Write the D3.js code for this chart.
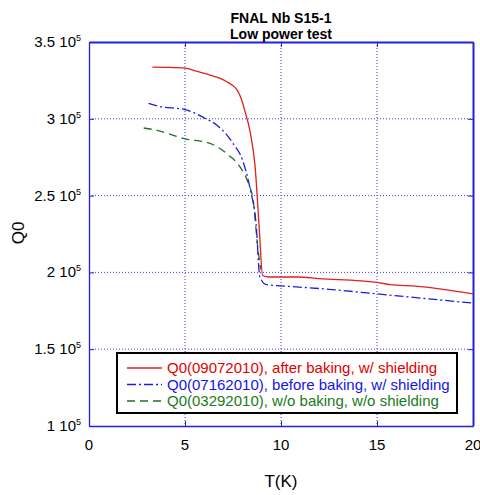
<!DOCTYPE html>
<html>
<head>
<meta charset="utf-8">
<script src="https://cdn.jsdelivr.net/npm/d3@7"></script>
<style>
body { margin: 0; background: #fff; }
text { font-family: "Liberation Sans", Arial, sans-serif; }
</style>
</head>
<body>
<div id="chart"></div>
<script>
var width = 480,
    height = 495;

// T(K) and Q0 (in units of 1e5)
var redT  = [3.3, 4.0, 5.0, 5.6, 6.3, 6.8, 7.2, 7.45, 7.7, 7.9, 8.1, 8.4, 8.65, 8.87, 9.04, 9.4, 10.8, 12.0, 15.0, 15.7, 17.0, 20.0];
var redQ  = [3.337, 3.335, 3.33, 3.31, 3.285, 3.265, 3.24, 3.22, 3.19, 3.14, 3.06, 2.91, 2.69, 2.28, 1.98, 1.97, 1.97, 1.96, 1.935, 1.92, 1.91, 1.86];

var blueT = [3.1, 3.7, 5.0, 6.1, 6.65, 7.5, 8.0, 8.4, 8.7, 8.9, 9.25, 10.3, 12.5, 15.0, 17.5, 20.0];
var blueQ = [3.10, 3.08, 3.06, 3.00, 2.96, 2.84, 2.73, 2.54, 2.32, 1.97, 1.92, 1.91, 1.89, 1.86, 1.83, 1.80];

var greenT = [2.85, 3.35, 5.0, 6.3, 7.3, 7.85, 8.3, 8.55, 8.8, 8.95];
var greenQ = [2.94, 2.93, 2.87, 2.84, 2.76, 2.69, 2.58, 2.47, 2.15, 2.02];

var xTicks = [0, 5, 10, 15, 20];
var yTicks = [1, 1.5, 2, 2.5, 3, 3.5];
var yTickLabels = ["1", "1.5", "2", "2.5", "3", "3.5"];

var seriesNames = ["Q0(09072010), after baking, w/ shielding",
                   "Q0(07162010), before baking, w/ shielding",
                   "Q0(03292010), w/o baking, w/o shielding"];

var svg = d3.select("#chart")
  .append("svg")
  .attr("width", width)
  .attr("height", height);

var xScale = d3.scaleLinear().domain([0, 20]).range([89, 473]);
var yScale = d3.scaleLinear().domain([1, 3.5]).range([426, 42]);

var gridColor = "#3a3aee";

// grid
svg.append("g").selectAll("line")
  .data(xTicks.slice(1, -1))
  .enter().append("line")
  .attr("x1", function(d) { return xScale(d); })
  .attr("x2", function(d) { return xScale(d); })
  .attr("y1", yScale(3.5))
  .attr("y2", yScale(1))
  .attr("stroke", gridColor)
  .attr("stroke-width", 1)
  .attr("stroke-dasharray", "1,2");

svg.append("g").selectAll("line")
  .data(yTicks.slice(1, -1))
  .enter().append("line")
  .attr("x1", xScale(0))
  .attr("x2", xScale(20))
  .attr("y1", function(d) { return yScale(d); })
  .attr("y2", function(d) { return yScale(d); })
  .attr("stroke", gridColor)
  .attr("stroke-width", 1)
  .attr("stroke-dasharray", "1,2");

// axes with inward ticks
var xAxis = d3.axisBottom(xScale).tickValues(xTicks).tickSizeInner(-5).tickSizeOuter(0).tickFormat("");
var yAxis = d3.axisLeft(yScale).tickValues(yTicks).tickSizeInner(-5).tickSizeOuter(0).tickFormat("");
var xAxisTop = d3.axisTop(xScale).tickValues(xTicks).tickSizeInner(-5).tickSizeOuter(0).tickFormat("");
var yAxisRight = d3.axisRight(yScale).tickValues(yTicks).tickSizeInner(-5).tickSizeOuter(0).tickFormat("");

function styleAxis(g, w) {
  g.selectAll("path, line").attr("stroke", "#2020dd");
  g.select("path").attr("stroke-width", w);
}

svg.append("g").attr("transform", "translate(0," + yScale(1) + ")").call(xAxis).call(styleAxis, 1.3);
svg.append("g").attr("transform", "translate(" + xScale(0) + ",0)").call(yAxis).call(styleAxis, 1.3);
svg.append("g").attr("transform", "translate(0," + yScale(3.5) + ")").call(xAxisTop).call(styleAxis, 2);
svg.append("g").attr("transform", "translate(" + xScale(20) + ",0)").call(yAxisRight).call(styleAxis, 2);

// tick labels
svg.append("g").selectAll("text")
  .data(xTicks)
  .enter().append("text")
  .attr("x", function(d) { return xScale(d); })
  .attr("y", 450)
  .attr("text-anchor", "middle")
  .attr("font-size", 15)
  .text(function(d) { return d; });

var yl = svg.append("g").selectAll("text")
  .data(yTicks)
  .enter().append("text")
  .attr("x", 81)
  .attr("y", function(d) { return yScale(d) + 5; })
  .attr("text-anchor", "end")
  .attr("font-size", 15);
yl.append("tspan").text(function(d, i) { return yTickLabels[i] + " 10"; });
yl.append("tspan").attr("dy", -6).attr("font-size", 9).text("5");

// curves
var line = d3.line()
  .curve(d3.curveMonotoneX)
  .x(function(d) { return xScale(d[0]); })
  .y(function(d) { return yScale(d[1]); });

var series = [
  { t: redT, q: redQ, color: "#e41e1e", text: "#e00000", dash: null, w: 1.3 },
  { t: blueT, q: blueQ, color: "#1c1ce0", text: "#1414e6", dash: "9,3,2,3", w: 1.3 },
  { t: greenT, q: greenQ, color: "#1f6f2a", text: "#1b7a1b", dash: "8,5", w: 1.3 }
];

svg.append("defs").append("clipPath").attr("id", "plotclip")
  .append("rect")
  .attr("x", xScale(0)).attr("y", yScale(3.5))
  .attr("width", xScale(20) - xScale(0))
  .attr("height", yScale(1) - yScale(3.5));

var curves = svg.append("g").attr("clip-path", "url(#plotclip)");
series.slice().reverse().forEach(function(s) {
  curves.append("path")
    .datum(d3.zip(s.t, s.q))
    .attr("d", line)
    .attr("fill", "none")
    .attr("stroke", s.color)
    .attr("stroke-width", s.w)
    .attr("stroke-dasharray", s.dash);
});

// legend
var legend = svg.append("g");
legend.append("rect")
  .attr("x", 117).attr("y", 353)
  .attr("width", 340).attr("height", 60)
  .attr("fill", "#fff")
  .attr("stroke", "#000")
  .attr("stroke-width", 2);

series.forEach(function(s, i) {
  var y = 368 + i * 16.5;
  legend.append("line")
    .attr("x1", 127).attr("x2", 162)
    .attr("y1", y).attr("y2", y)
    .attr("stroke", s.color)
    .attr("stroke-width", 1.3)
    .attr("stroke-dasharray", s.dash);
  legend.append("text")
    .attr("x", 167).attr("y", y + 5)
    .attr("font-size", 15)
    .attr("fill", s.text)
    .text(seriesNames[i]);
});

// titles
svg.append("text")
  .attr("x", 281).attr("y", 23)
  .attr("text-anchor", "middle")
  .attr("font-size", 14).attr("font-weight", "bold")
  .text("FNAL Nb S15-1");
svg.append("text")
  .attr("x", 281).attr("y", 39)
  .attr("text-anchor", "middle")
  .attr("font-size", 14).attr("font-weight", "bold")
  .text("Low power test");

svg.append("text")
  .attr("x", 281).attr("y", 487)
  .attr("text-anchor", "middle")
  .attr("font-size", 17)
  .text("T(K)");

svg.append("text")
  .attr("transform", "translate(24,233) rotate(-90)")
  .attr("text-anchor", "middle")
  .attr("font-size", 17)
  .text("Q0");
</script>
</body>
</html>
